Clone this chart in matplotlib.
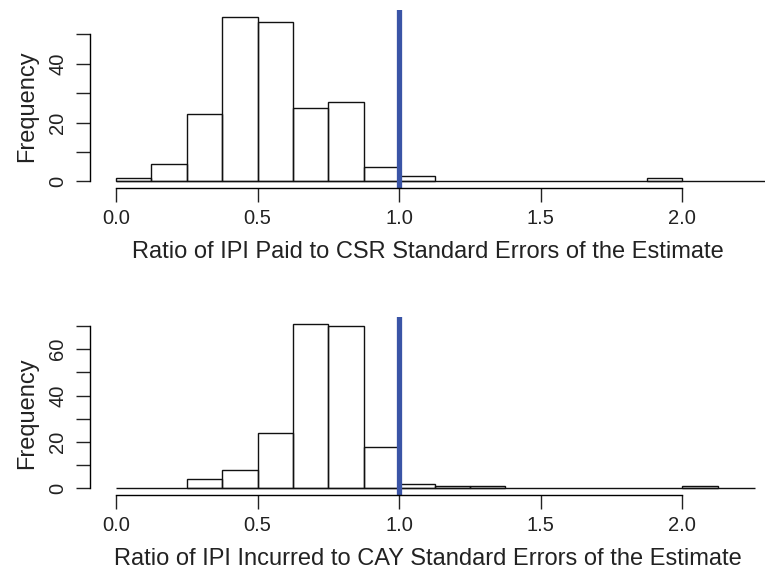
import matplotlib
matplotlib.use('Agg')
import matplotlib.pyplot as plt
import numpy as np

plt.rcParams['font.family'] = ['Liberation Sans', 'DejaVu Sans']

# bin edges (width 0.125) and counts
edges = np.arange(0, 2.25 + 0.001, 0.125)
paid_counts = [1, 6, 23, 56, 54, 25, 27, 5, 2, 0, 0, 0, 0, 0, 0, 1, 0, 0]
incurred_counts = [0, 0, 4, 8, 24, 71, 70, 18, 2, 1, 1, 0, 0, 0, 0, 0, 1, 0]

xticks = [0.0, 0.5, 1.0, 1.5, 2.0]
xtick_labels = ['0.0', '0.5', '1.0', '1.5', '2.0']
ref_line = 1.0

panels = [
    dict(counts=paid_counts, ymax_tick=50, ylabels=[0, 20, 40],
         xlabel='Ratio of IPI Paid to CSR Standard Errors of the Estimate',
         top=10, base_end=2.30),
    dict(counts=incurred_counts, ymax_tick=70, ylabels=[0, 20, 40, 60],
         xlabel='Ratio of IPI Incurred to CAY Standard Errors of the Estimate',
         top=317, base_end=2.255),
]

W, H = 765, 575
fig = plt.figure(figsize=(W / 100, H / 100), dpi=100)

for p in panels:
    h_px = 178
    ax = fig.add_axes([90 / W, 1 - (p['top'] + h_px) / H, (W - 90) / W, h_px / H])
    counts = np.array(p['counts'])
    left = edges[:-1]
    nz = counts > 0
    ax.bar(left[nz], counts[nz], width=0.125, align='edge', fill=False,
           edgecolor='#111111', linewidth=1.0)
    ax.hlines(0, 0, p['base_end'], color='#111111', linewidth=1.0)
    ax.axvline(ref_line, color='#3a54a6', linewidth=3.8)

    cmax = counts.max()
    ax.set_ylim(-0.04 * cmax, 1.04 * cmax)
    ax.set_xlim(-0.0915, 2.292)

    for s in ['top', 'right']:
        ax.spines[s].set_visible(False)
    ax.spines['left'].set_bounds(0, p['ymax_tick'])
    ax.spines['bottom'].set_bounds(0, 2.0)
    ax.spines['left'].set_linewidth(1.0)
    ax.spines['bottom'].set_linewidth(1.0)

    ax.set_xticks(xticks)
    ax.set_xticklabels(xtick_labels)
    yt = list(range(0, p['ymax_tick'] + 1, 10))
    ax.set_yticks(yt)
    ax.set_yticklabels([str(v) if v in p['ylabels'] else '' for v in yt],
                       rotation=90, va='center')
    ax.tick_params(direction='out', length=10, width=1.0, labelsize=14.5,
                   colors='#222222')
    ax.tick_params(axis='x', pad=5)
    ax.tick_params(axis='y', pad=6.5)

    ax.set_xlabel(p['xlabel'], fontsize=17, color='#222222', va='center')
    ax.xaxis.set_label_coords(0.5 - 0.0, -0.36)
    ax.set_ylabel('Frequency', fontsize=17, color='#222222', va='center')
    ax.yaxis.set_label_coords(-0.0933, 0.46)

fig.savefig('out.png', dpi=100)
